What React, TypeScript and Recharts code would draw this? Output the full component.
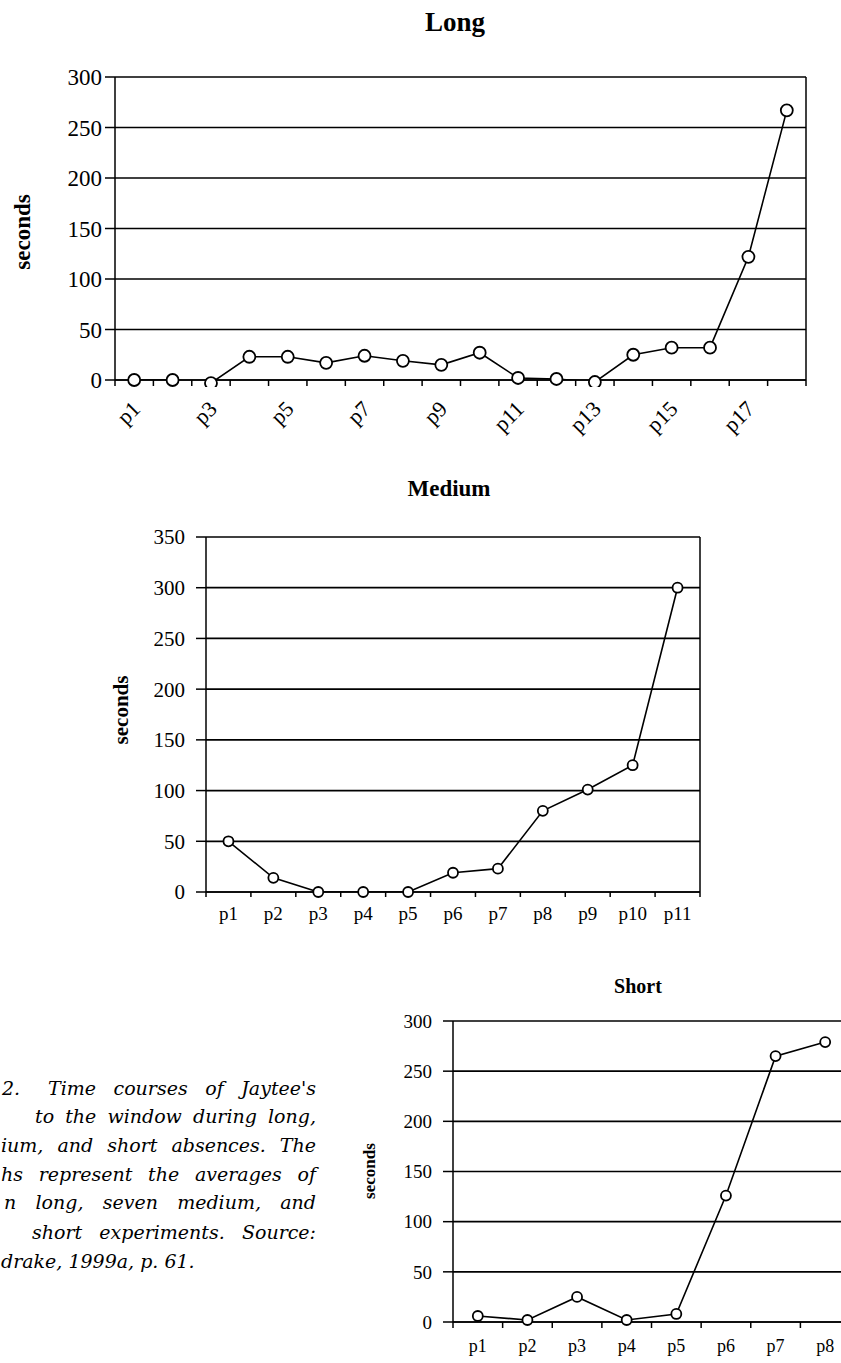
import React from 'react';
import { LineChart, Line, XAxis, YAxis, CartesianGrid } from 'recharts';

// Long absences
const longCats = ['p1', 'p2', 'p3', 'p4', 'p5', 'p6', 'p7', 'p8', 'p9', 'p10', 'p11', 'p12', 'p13', 'p14', 'p15', 'p16', 'p17', 'p18'];
const longSeconds = [0, 0, -3, 23, 23, 17, 24, 19, 15, 27, 2, 1, -2, 25, 32, 32, 122, 267];
const longTicks = [0, 50, 100, 150, 200, 250, 300];

// Medium absences
const mediumCats = ['p1', 'p2', 'p3', 'p4', 'p5', 'p6', 'p7', 'p8', 'p9', 'p10', 'p11'];
const mediumSeconds = [50, 14, 0, 0, 0, 19, 23, 80, 101, 125, 300];
const mediumTicks = [0, 50, 100, 150, 200, 250, 300, 350];

// Short absences
const shortCats = ['p1', 'p2', 'p3', 'p4', 'p5', 'p6', 'p7', 'p8'];
const shortSeconds = [6, 2, 25, 2, 8, 126, 265, 279];
const shortTicks = [0, 50, 100, 150, 200, 250, 300];

const captionLines = [
  "Time courses of Jaytee's",
  'to the window during long,',
  'ium, and short absences. The',
  'hs represent the averages of',
  'n long, seven medium, and',
  'short experiments. Source:',
  'drake, 1999a, p. 61.',
];

const SERIF = '"Liberation Serif", "Times New Roman", serif';
const CAPTION_FONT = '"DejaVu Serif", serif';

const rows = (cats: string[], vals: number[]) => cats.map((c, i) => ({ cat: c, sec: vals[i] }));

type TickOpts = {
  step: number;
  count: number;
  tickLen: number;
  fontSize: number;
  rotate: boolean;
  every: number;
  labelDy: number;
};

function makeTick(o: TickOpts) {
  return (props: any) => {
    const { x, y, payload, index } = props;
    const h = o.step / 2;
    const showLabel = index % o.every === 0;
    return (
      <g>
        <line x1={x - h} x2={x - h} y1={y} y2={y + o.tickLen} stroke="#000" strokeWidth={1.5} />
        {index === o.count - 1 && (
          <line x1={x + h} x2={x + h} y1={y} y2={y + o.tickLen} stroke="#000" strokeWidth={1.5} />
        )}
        {showLabel &&
          (o.rotate ? (
            <text
              transform={`translate(${x + 2},${y + o.labelDy}) rotate(-45)`}
              textAnchor="end"
              dominantBaseline="central"
              fill="#000"
              fontSize={o.fontSize}
              fontFamily={SERIF}
            >
              {payload.value}
            </text>
          ) : (
            <text
              x={x}
              y={y + o.labelDy}
              textAnchor="middle"
              dominantBaseline="central"
              fill="#000"
              fontSize={o.fontSize}
              fontFamily={SERIF}
            >
              {payload.value}
            </text>
          ))}
      </g>
    );
  };
}

type PanelProps = {
  left: number;
  top: number;
  width: number;
  height: number;
  margin: { top: number; right: number; bottom: number; left: number };
  yWidth: number;
  xHeight: number;
  step: number;
  cats: string[];
  vals: number[];
  yTicks: number[];
  yFont: number;
  yTickMargin: number;
  tick: (p: any) => React.ReactElement;
  dotR: number;
};

function Panel(p: PanelProps) {
  const max = p.yTicks[p.yTicks.length - 1];
  return (
    <div style={{ position: 'absolute', left: p.left, top: p.top }}>
      <LineChart width={p.width} height={p.height} data={rows(p.cats, p.vals)} margin={p.margin} style={{ fontFamily: SERIF }}>
        <CartesianGrid vertical={false} stroke="#000" strokeWidth={1.7} />
        <XAxis
          dataKey="cat"
          interval={0}
          height={p.xHeight}
          padding={{ left: p.step / 2, right: p.step / 2 }}
          tickSize={0}
          tickMargin={0}
          tickLine={false}
          axisLine={{ stroke: '#000', strokeWidth: 1.5 }}
          tick={p.tick}
        />
        <YAxis
          type="number"
          domain={[0, max]}
          ticks={p.yTicks}
          interval={0}
          allowDataOverflow
          width={p.yWidth}
          tickSize={10}
          tickMargin={p.yTickMargin}
          axisLine={{ stroke: '#000', strokeWidth: 1.5 }}
          tickLine={{ stroke: '#000', strokeWidth: 1.5 }}
          tick={{ fill: '#000', fontSize: p.yFont, fontFamily: SERIF }}
        />
        <YAxis
          yAxisId="r"
          orientation="right"
          type="number"
          domain={[0, max]}
          width={1}
          tick={false}
          tickLine={false}
          axisLine={{ stroke: '#000', strokeWidth: 1.5 }}
        />
        <Line
          type="linear"
          dataKey="sec"
          stroke="#000"
          strokeWidth={1.6}
          isAnimationActive={false}
          activeDot={false}
          dot={{ r: p.dotR, fill: '#fff', stroke: '#000', strokeWidth: 1.8, clipDot: false } as any}
        />
      </LineChart>
    </div>
  );
}

function Title({ text, cx, cy, size }: { text: string; cx: number; cy: number; size: number }) {
  return (
    <div
      style={{
        position: 'absolute',
        left: cx - 150,
        top: cy - size / 2,
        width: 300,
        height: size,
        lineHeight: `${size}px`,
        textAlign: 'center',
        fontFamily: SERIF,
        fontWeight: 'bold',
        fontSize: size,
        color: '#000',
      }}
    >
      {text}
    </div>
  );
}

function YTitle({ cx, cy, size }: { cx: number; cy: number; size: number }) {
  return (
    <div
      style={{
        position: 'absolute',
        left: cx - 100,
        top: cy - 15,
        width: 200,
        height: 30,
        lineHeight: '30px',
        textAlign: 'center',
        fontFamily: SERIF,
        fontWeight: 'bold',
        fontSize: size,
        color: '#000',
        transform: 'rotate(-90deg)',
      }}
    >
      seconds
    </div>
  );
}

const LONG_STEP = (806 - 115) / longCats.length;
const MED_STEP = (700 - 206) / mediumCats.length;
const SHORT_STEP = 49.6;

const longTick = makeTick({ step: LONG_STEP, count: longCats.length, tickLen: 6, fontSize: 22, rotate: true, every: 2, labelDy: 25 });
const medTick = makeTick({ step: MED_STEP, count: mediumCats.length, tickLen: 5, fontSize: 19, rotate: false, every: 1, labelDy: 21 });
const shortTick = makeTick({ step: SHORT_STEP, count: shortCats.length, tickLen: 6, fontSize: 18, rotate: false, every: 1, labelDy: 24 });

// caption line boxes: [left, right, top]
const captionPos: Array<[number, number, number]> = [
  [48, 316, 1075],
  [35, 316, 1103],
  [1, 316, 1132],
  [1, 316, 1161],
  [4, 316, 1189],
  [32, 316, 1219],
  [1, 316, 1248],
];

export default function App() {
  return (
    <div style={{ position: 'absolute', left: 0, top: 0, width: 841, height: 1363, overflow: 'hidden', background: '#fff' }}>
      <Title text="Long" cx={455} cy={22} size={27} />
      <YTitle cx={23} cy={232} size={23} />
      <Panel
        left={0}
        top={0}
        width={841}
        height={460}
        margin={{ top: 77, right: 34, bottom: 3, left: 0 }}
        yWidth={115}
        xHeight={77}
        step={LONG_STEP}
        cats={longCats}
        vals={longSeconds}
        yTicks={longTicks}
        yFont={23}
        yTickMargin={3}
        tick={longTick}
        dotR={6}
      />

      <Title text="Medium" cx={449} cy={488} size={23} />
      <YTitle cx={121} cy={710} size={21} />
      <Panel
        left={0}
        top={500}
        width={841}
        height={450}
        margin={{ top: 37, right: 140, bottom: 8, left: 0 }}
        yWidth={206}
        xHeight={50}
        step={MED_STEP}
        cats={mediumCats}
        vals={mediumSeconds}
        yTicks={mediumTicks}
        yFont={21}
        yTickMargin={11}
        tick={medTick}
        dotR={5}
      />

      <Title text="Short" cx={638} cy={986} size={20} />
      <YTitle cx={370} cy={1171} size={17} />
      <Panel
        left={340}
        top={960}
        width={520}
        height={403}
        margin={{ top: 61, right: 9, bottom: 1, left: 0 }}
        yWidth={113}
        xHeight={40}
        step={SHORT_STEP}
        cats={shortCats}
        vals={shortSeconds}
        yTicks={shortTicks}
        yFont={19}
        yTickMargin={11}
        tick={shortTick}
        dotR={5}
      />

      <div
        style={{
          position: 'absolute',
          left: 2,
          top: 1075,
          width: 20,
          height: 26,
          lineHeight: '26px',
          fontFamily: CAPTION_FONT,
          fontStyle: 'italic',
          fontSize: 19,
          color: '#000',
        }}
      >
        2.
      </div>
      {captionLines.map((t, i) => {
        const [x0, x1, top] = captionPos[i];
        const last = i === captionLines.length - 1;
        return (
          <div
            key={i}
            style={{
              position: 'absolute',
              left: x0,
              top,
              width: x1 - x0,
              height: 26,
              lineHeight: '26px',
              fontFamily: CAPTION_FONT,
              fontStyle: 'italic',
              fontSize: 19,
              color: '#000',
              textAlign: last ? 'left' : 'justify',
              textAlignLast: last ? 'left' : 'justify',
            }}
          >
            {t}
          </div>
        );
      })}
    </div>
  );
}
